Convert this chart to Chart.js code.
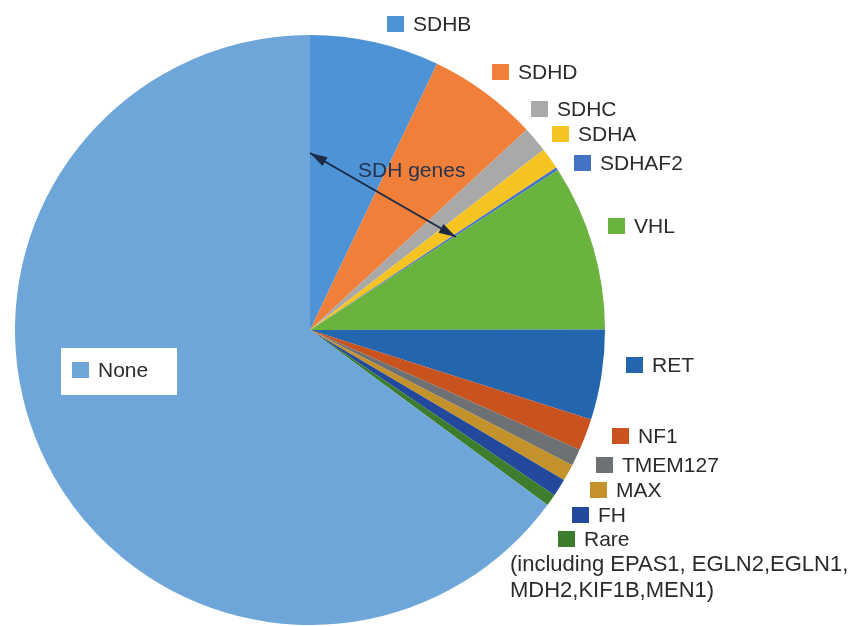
<!DOCTYPE html>
<html>
<head>
<meta charset="utf-8">
<script src="https://cdn.jsdelivr.net/npm/chart.js@4"></script>
<style>
  html, body { margin: 0; padding: 0; background: #fff; }
  #wrap { width: 848px; height: 626px; position: relative; }
</style>
</head>
<body>
<div id="wrap"><canvas id="pieChart" width="848" height="626"></canvas></div>
<script>
// Data (percent of cases)
const genes = ['SDHB', 'SDHD', 'SDHC', 'SDHA', 'SDHAF2', 'VHL', 'RET', 'NF1', 'TMEM127', 'MAX', 'FH', 'Rare', 'None'];
const shares = [7.1, 6.05, 1.42, 1.17, 0.17, 9.1, 4.95, 1.75, 0.92, 0.92, 0.97, 0.65, 65.0];
const sliceColors = ['#4d93d6', '#f07f3a', '#a9a9a9', '#f6c422', '#4472c4', '#6bb33f', '#2466ad',
                     '#c9531f', '#6e7173', '#c3922b', '#23499c', '#3d7d2e', '#6ea6da'];
const rareNote = ['(including EPAS1, EGLN2,EGLN1,', 'MDH2,KIF1B,MEN1)'];

// Where the labels sit (square left / text middle)
const labelPos = {
    SDHB: [387, 24], SDHD: [492, 72], SDHC: [531, 109], SDHA: [552, 134], SDHAF2: [574, 163],
    VHL: [608, 226], RET: [626, 365], NF1: [612, 436], TMEM127: [596, 465], MAX: [590, 490],
    FH: [572, 515], Rare: [558, 539], None: [72, 370]
};

const labelPlugin = {
    id: 'labels',
    afterDraw(chart) {
        const c = chart.ctx;
        c.save();
        c.font = '21px "Liberation Sans", Arial, sans-serif';
        c.textBaseline = 'middle';

        // white box behind "None"
        c.fillStyle = '#ffffff';
        c.fillRect(61, 348, 116, 47);

        genes.forEach((g, i) => {
            const [x, y] = labelPos[g];
            c.fillStyle = sliceColors[i];
            c.fillRect(x, y - 8, 17, 16);
            c.fillStyle = '#2b2b2b';
            c.fillText(g, x + 26, y + 1);
        });
        c.font = '22px "Liberation Sans", Arial, sans-serif';
        c.fillText(rareNote[0], 510, 565);
        c.fillText(rareNote[1], 510, 591);

        // SDH genes double arrow
        const x1 = 310, y1 = 153, x2 = 456, y2 = 237;
        c.strokeStyle = '#1c2b45';
        c.fillStyle = '#1c2b45';
        c.lineWidth = 2;
        c.beginPath();
        c.moveTo(x1, y1);
        c.lineTo(x2, y2);
        c.stroke();
        const ang = Math.atan2(y2 - y1, x2 - x1);
        function head(x, y, a) {
            c.beginPath();
            c.moveTo(x, y);
            c.lineTo(x - 18 * Math.cos(a - 0.28), y - 18 * Math.sin(a - 0.28));
            c.lineTo(x - 18 * Math.cos(a + 0.28), y - 18 * Math.sin(a + 0.28));
            c.closePath();
            c.fill();
        }
        head(x2, y2, ang);
        head(x1, y1, ang + Math.PI);
        c.font = '21px "Liberation Sans", Arial, sans-serif';
        c.fillStyle = '#26344f';
        c.fillText('SDH genes', 358, 171);
        c.restore();
    }
};

const ctx = document.getElementById('pieChart').getContext('2d');
new Chart(ctx, {
    type: 'pie',
    data: {
        labels: genes,
        datasets: [{
            data: shares,
            backgroundColor: sliceColors,
            borderWidth: 0
        }]
    },
    options: {
        responsive: false,
        animation: false,
        layout: { padding: { left: 15, right: 243, top: 35, bottom: 1 } },
        plugins: {
            legend: { display: false },
            tooltip: { enabled: false }
        }
    },
    plugins: [labelPlugin]
});
</script>
</body>
</html>
